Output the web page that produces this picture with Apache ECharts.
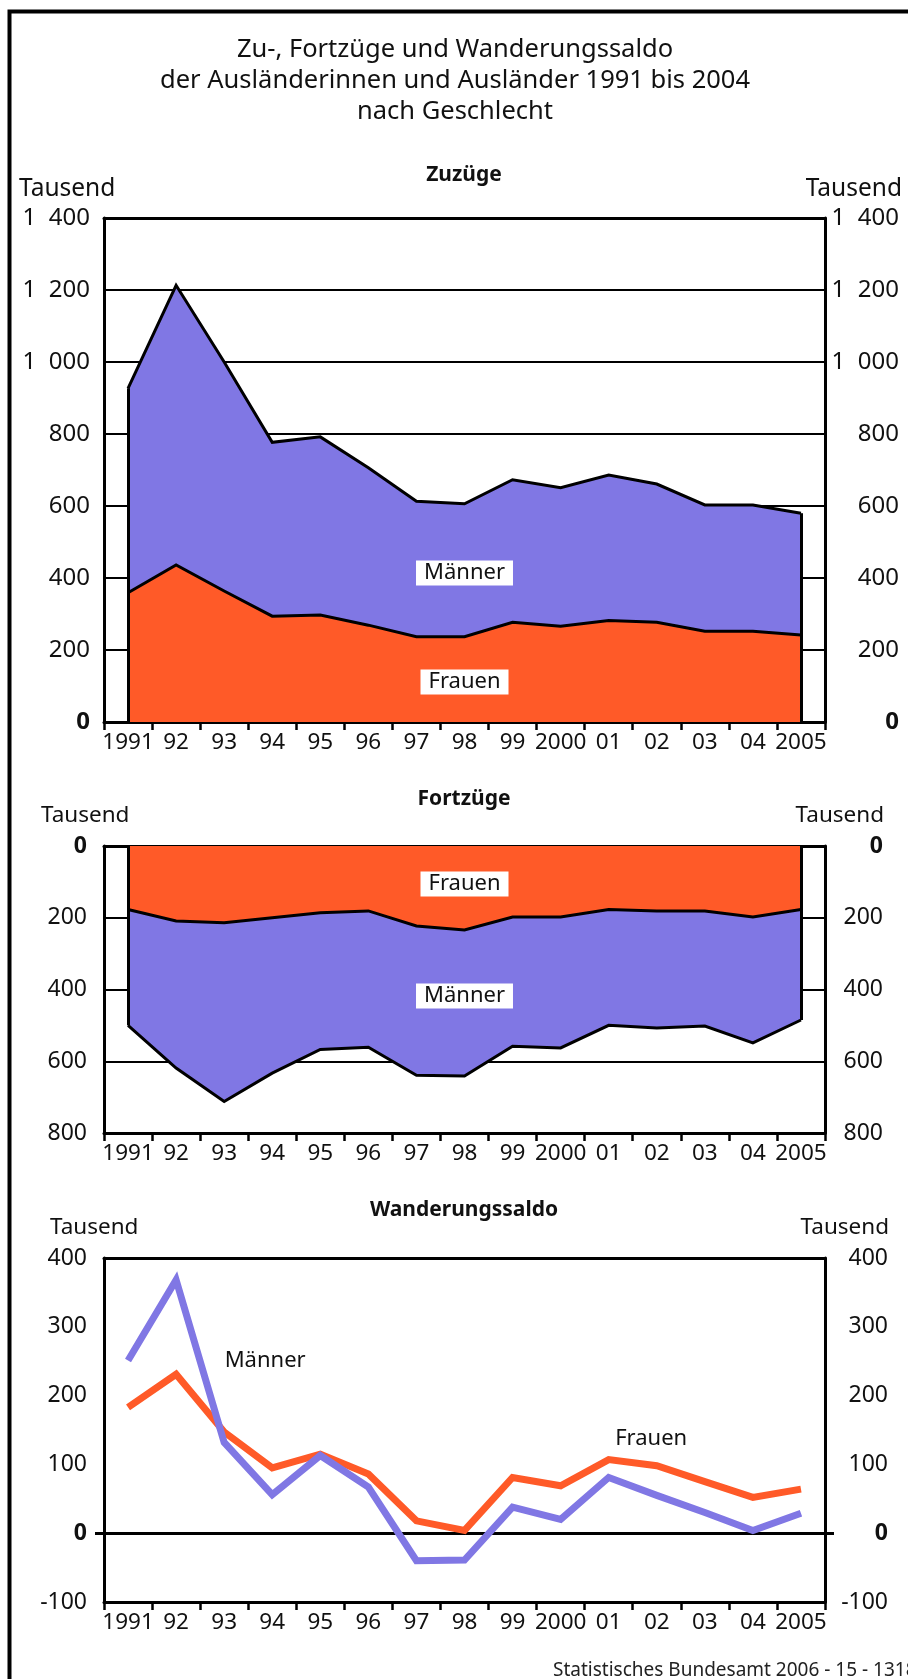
<!DOCTYPE html>
<html>
<head>
<meta charset="utf-8">
<script src="https://cdn.jsdelivr.net/npm/echarts@6/dist/echarts.min.js"></script>
<style>
html,body{margin:0;padding:0;background:#fff;}
#c{width:908px;height:1679px;}
</style>
</head>
<body>
<div id="c"></div>
<script>
// ---- data (Tausend) ----
const years = ['1991','92','93','94','95','96','97','98','99','2000','01','02','03','04','2005'];

// Zuzüge
const zuFrauen  = [359, 436, 364, 294, 297, 269, 237, 237, 277, 266, 282, 277, 252, 252, 242];
const zuMaenner = [568, 777, 636, 483, 495, 437, 376, 369, 396, 385, 404, 384, 351, 351, 338];

// Fortzüge
const fortFrauen  = [177, 209, 214, 200, 186, 181, 223, 234, 198, 198, 177, 181, 181, 198, 177];
const fortMaenner = [323, 410, 498, 433, 381, 380, 416, 407, 360, 365, 323, 326, 321, 351, 308];

// Wanderungssaldo
const saldoFrauen  = [183, 231, 147, 95, 115, 86, 18, 4, 81, 69, 107, 98, 75, 52, 64];
const saldoMaenner = [251, 368, 132, 56, 113, 67, -40, -39, 38, 20, 81, 55, 30, 4, 29];

// ---- styles ----
const FONT = '"Noto Sans", sans-serif';
const TXT = '#111';
const ORANGE = '#FF5A28';
const PURPLE = '#8077E4';

const zuTotal = zuFrauen.map((v, i) => v + zuMaenner[i]);
const fortTotal = fortFrauen.map((v, i) => v + fortMaenner[i]);
const last = years.length - 1;

function fmt(v) {
  if (v === 0) return '{b|0}';
  const a = Math.abs(v);
  let s = String(a);
  if (s.length > 3) s = s.slice(0, -3) + '  ' + s.slice(-3);
  return (v < 0 ? '-' : '') + s;
}

function xMain(g) {
  return {
    type: 'category', gridIndex: g, data: years, boundaryGap: true, position: 'bottom',
    axisLine: { show: true, onZero: false, lineStyle: { color: '#000', width: 3 } },
    axisTick: { show: true, length: 8, inside: false, lineStyle: { color: '#000', width: 2.5 } },
    axisLabel: { interval: 0, margin: 9, color: TXT, fontSize: 22.5, fontFamily: FONT },
    splitLine: { show: false }
  };
}
function xLine(g, pos, onZero) {
  return {
    type: 'category', gridIndex: g, data: years, boundaryGap: true, position: pos,
    axisLine: { show: true, onZero: onZero, lineStyle: { color: '#000', width: 3 } },
    axisTick: { show: false }, axisLabel: { show: false }, splitLine: { show: false }
  };
}
function yAxis(g, side, min, max, interval, inverse, margin, zeroTick, fs) {
  const ax = {
    type: 'value', gridIndex: g, position: side, min: min, max: max, interval: interval, inverse: inverse,
    axisLine: { show: true, onZero: false, lineStyle: { color: '#000', width: 3 } },
    axisTick: { show: false },
    axisLabel: { margin: margin, color: TXT, fontSize: fs, fontFamily: FONT, formatter: fmt,
                 rich: { b: { fontWeight: 'bold', fontSize: fs, fontFamily: FONT, color: TXT } } },
    splitLine: { show: side === 'left', lineStyle: { color: '#000', width: 2 } }
  };
  if (side === 'right') ax.axisLabel.align = 'right';
  if (zeroTick) {
    ax.axisTick = { show: true, customValues: [0], length: 9, inside: false, lineStyle: { color: '#000', width: 3 } };
  }
  return ax;
}

const areaLine = { color: '#000', width: 3, join: 'miter' };
const boxLabel = { show: true, position: 'inside', formatter: '{b}', color: TXT, fontSize: 22, fontFamily: FONT,
                   backgroundColor: '#fff', padding: [2, 8, 1, 8] };
function boxPoints(items) {
  return { symbol: 'rect', symbolSize: 1, silent: true, itemStyle: { color: 'rgba(0,0,0,0)' },
           label: boxLabel, data: items };
}
function edges(total) {
  return {
    silent: true, symbol: ['none', 'none'], z: 10,
    label: { show: false },
    lineStyle: { color: '#000', width: 3, type: 'solid' },
    emphasis: { disabled: true },
    data: [
      [{ coord: [years[0], 0] }, { coord: [years[0], total[0]] }],
      [{ coord: [years[last], 0] }, { coord: [years[last], total[last]] }]
    ]
  };
}
function txt(x, y, text, align, fs, weight) {
  return { type: 'text', x: x, y: y, silent: true,
    style: { text: text, align: align, verticalAlign: 'middle', fontSize: fs, fontWeight: weight || 'normal',
             fontFamily: FONT, fill: TXT } };
}

const chart = echarts.init(document.getElementById('c'), null, { renderer: 'canvas' });

const option = {
  animation: false,
  backgroundColor: '#fff',
  textStyle: { fontFamily: FONT },
  grid: [
    { left: 104, right: 83, top: 218, height: 504 },
    { left: 104, right: 83, top: 846, height: 287 },
    { left: 104, right: 83, top: 1258, height: 344 }
  ],
  xAxis: [
    xMain(0), xLine(0, 'top', false),
    xMain(1), xLine(1, 'top', false),
    xMain(2), xLine(2, 'top', false), xLine(2, 'bottom', true)
  ],
  yAxis: [
    yAxis(0, 'left', 0, 1400, 200, false, 14, false, 24),
    yAxis(0, 'right', 0, 1400, 200, false, 74, false, 24),
    yAxis(1, 'left', 0, 800, 200, true, 17, false, 23),
    yAxis(1, 'right', 0, 800, 200, true, 58, false, 23),
    yAxis(2, 'left', -100, 400, 100, false, 17, true, 23),
    yAxis(2, 'right', -100, 400, 100, false, 63, true, 23)
  ],
  series: [
    // Zuzüge
    { type: 'line', name: 'Frauen', xAxisIndex: 0, yAxisIndex: 0, stack: 'zu', data: zuFrauen,
      symbol: 'none', lineStyle: areaLine, areaStyle: { color: ORANGE, opacity: 1 }, z: 3,
      markPoint: boxPoints([{ name: 'Frauen', coord: [years[7], 111] }]) },
    { type: 'line', name: 'Männer', xAxisIndex: 0, yAxisIndex: 0, stack: 'zu', data: zuMaenner,
      symbol: 'none', lineStyle: areaLine, areaStyle: { color: PURPLE, opacity: 1 }, z: 2,
      markLine: edges(zuTotal),
      markPoint: boxPoints([{ name: 'Männer', coord: [years[7], 414] }]) },
    // Fortzüge
    { type: 'line', name: 'Frauen', xAxisIndex: 2, yAxisIndex: 2, stack: 'fort', data: fortFrauen,
      symbol: 'none', lineStyle: areaLine, areaStyle: { color: ORANGE, opacity: 1 }, z: 3,
      markPoint: boxPoints([{ name: 'Frauen', coord: [years[7], 106] }]) },
    { type: 'line', name: 'Männer', xAxisIndex: 2, yAxisIndex: 2, stack: 'fort', data: fortMaenner,
      symbol: 'none', lineStyle: areaLine, areaStyle: { color: PURPLE, opacity: 1 }, z: 2,
      markLine: edges(fortTotal),
      markPoint: boxPoints([{ name: 'Männer', coord: [years[7], 418] }]) },
    // Wanderungssaldo
    { type: 'line', name: 'Frauen', xAxisIndex: 4, yAxisIndex: 4, data: saldoFrauen, symbol: 'none',
      lineStyle: { color: ORANGE, width: 7, join: 'miter', cap: 'butt' }, z: 3,
      markPoint: { symbol: 'rect', symbolSize: 1, silent: true, itemStyle: { color: 'rgba(0,0,0,0)' },
        label: { show: true, position: 'right', distance: 6, formatter: '{b}', color: TXT, fontSize: 22, fontFamily: FONT },
        data: [{ name: 'Frauen', coord: [years[10], 138] }] } },
    { type: 'line', name: 'Männer', xAxisIndex: 4, yAxisIndex: 4, data: saldoMaenner, symbol: 'none',
      lineStyle: { color: PURPLE, width: 7, join: 'miter', cap: 'butt' }, z: 4,
      markPoint: { symbol: 'rect', symbolSize: 1, silent: true, itemStyle: { color: 'rgba(0,0,0,0)' },
        label: { show: true, position: 'right', distance: 0, formatter: '{b}', color: TXT, fontSize: 22, fontFamily: FONT },
        data: [{ name: 'Männer', coord: [years[2], 251] }] } }
  ],
  graphic: [
    { type: 'rect', silent: true, shape: { x: 9.5, y: 11.5, width: 1200, height: 2000 },
      style: { fill: null, stroke: '#000', lineWidth: 4 } },
    { type: 'text', x: 455, y: 81, silent: true,
      style: { text: 'Zu-, Fortzüge und Wanderungssaldo\nder Ausländerinnen und Ausländer 1991 bis 2004\nnach Geschlecht',
               align: 'center', verticalAlign: 'middle', fontSize: 25.5, lineHeight: 31, fontFamily: FONT, fill: TXT } },
    txt(464, 175, 'Zuzüge', 'center', 21, 'bold'),
    txt(464, 799, 'Fortzüge', 'center', 21, 'bold'),
    txt(464, 1210, 'Wanderungssaldo', 'center', 21, 'bold'),
    txt(19, 189, 'Tausend', 'left', 24.5),
    txt(902, 189, 'Tausend', 'right', 24.5),
    txt(41, 816, 'Tausend', 'left', 22.5),
    txt(884, 816, 'Tausend', 'right', 22.5),
    txt(50, 1228, 'Tausend', 'left', 22.5),
    txt(889, 1228, 'Tausend', 'right', 22.5),
    { type: 'text', x: 553, y: 1671, silent: true,
      style: { text: 'Statistisches Bundesamt 2006 - 15 - 1318', align: 'left', verticalAlign: 'middle', fontSize: 19, fontFamily: FONT, fill: '#222' } }
  ]
};
chart.setOption(option);
</script>
</body>
</html>
